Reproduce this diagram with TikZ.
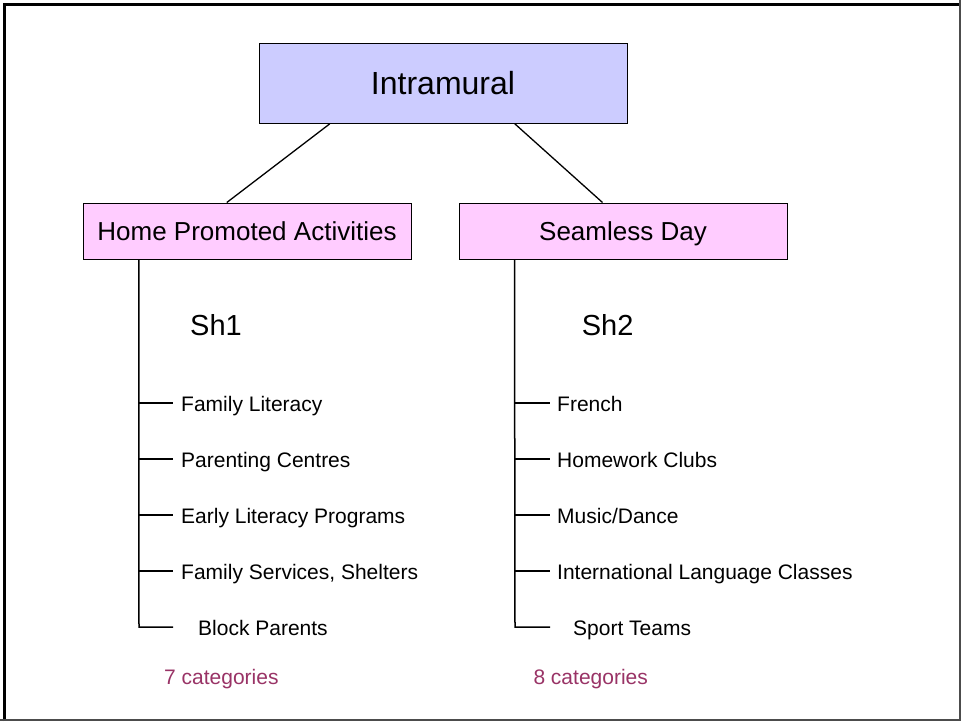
\documentclass[tikz,border=0pt]{standalone}
\usepackage{fontspec}
\setmainfont{Liberation Sans}
\definecolor{topfill}{HTML}{CCCCFF}
\definecolor{subfill}{HTML}{FFCCFF}
\definecolor{countcol}{HTML}{993366}
\tikzset{
  topbox/.style={draw=black, line width=1pt, fill=topfill, inner sep=0pt,
    minimum width=368pt, minimum height=80pt, font=\fontsize{32}{36}\selectfont,
    text height=23pt, text depth=0pt},
  subbox/.style={draw=black, line width=1pt, fill=subfill, inner sep=0pt,
    minimum width=328pt, minimum height=56pt, font=\fontsize{26}{30}\selectfont,
    text height=18.5pt, text depth=0pt},
  branch/.style={line width=1.3pt},
  spine/.style={line width=1.5pt},
  item/.style={anchor=base west, inner sep=0pt, font=\fontsize{21}{25}\selectfont},
  shlabel/.style={anchor=base west, inner sep=0pt, font=\fontsize{29}{33}\selectfont},
  count/.style={anchor=base west, inner sep=0pt, text=countcol, font=\fontsize{21}{25}\selectfont}
}
\begin{document}
\begin{tikzpicture}[x=1pt,y=-1pt]
  % page frame
  \useasboundingbox (0,0) rectangle (961,721);
  \fill[white] (0,0) rectangle (961,721);
  \draw[line width=3pt, black] (4.5,721) -- (4.5,4.5) -- (961,4.5);
  \draw[line width=2pt, black!70] (960,0) -- (960,720) -- (0,720);

  % boxes
  \node[topbox] (intra) at (443,83.3) {Intramural};
  \node[subbox] (home) at (247,231) {Home Promoted Activities};
  \node[subbox] (seam) at (623,231) {Seamless Day};

  % links from the top box
  \draw[branch] ([xshift=71.3pt]intra.south west) -- ([xshift=144.3pt]home.north west);
  \draw[branch] ([xshift=256.3pt]intra.south west) -- ([xshift=144pt]seam.north west);

  % left column
  \coordinate (lt) at ([xshift=56.3pt]home.south west);
  \coordinate (l1) at (139,403);
  \coordinate (l2) at (139,459);
  \coordinate (l3) at (139,515);
  \coordinate (l4) at (139,571);
  \coordinate (l5) at (139,627);
  \draw[spine] (lt) -- (l5) -- ++(34,0);
  \foreach \c in {l1,l2,l3,l4} \draw[spine] (\c) -- ++(34,0);
  \node[shlabel] (sh1) at (190,335) {Sh1};
  \node[item] (a1) at (181,411) {Family Literacy};
  \node[item] (a2) at (181,467) {Parenting Centres};
  \node[item] (a3) at (181,523) {Early Literacy Programs};
  \node[item] (a4) at (181,579) {Family Services, Shelters};
  \node[item] (a5) at (198,635) {Block Parents};
  \node[count] (c1) at (164,684) {7 categories};

  % right column
  \coordinate (rt) at ([xshift=56pt]seam.south west);
  \coordinate (r1) at (515,403);
  \coordinate (r2) at (515,459);
  \coordinate (r3) at (515,515);
  \coordinate (r4) at (515,571);
  \coordinate (r5) at (515,627);
  \draw[spine] (rt) -- (r5) -- ++(35,0);
  \foreach \c in {r1,r2,r3,r4} \draw[spine] (\c) -- ++(35,0);
  \node[shlabel] (sh2) at (581.7,335) {Sh2};
  \node[item] (b1) at (557,411) {French};
  \node[item] (b2) at (557,467) {Homework Clubs};
  \node[item] (b3) at (557,523) {Music/Dance};
  \node[item] (b4) at (557,579) {International Language Classes};
  \node[item] (b5) at (573,635) {Sport Teams};
  \node[count] (c2) at (533.3,684) {8 categories};
\end{tikzpicture}
\end{document}
